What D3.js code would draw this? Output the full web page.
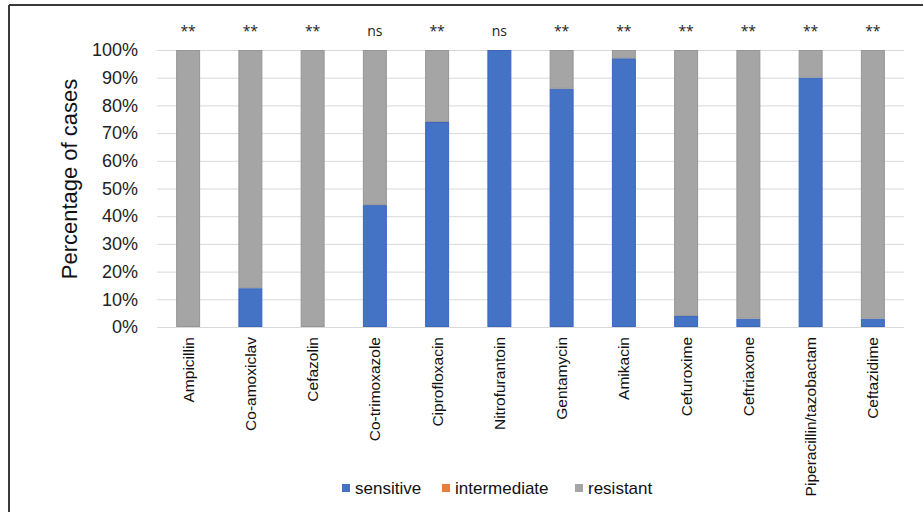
<!DOCTYPE html>
<html>
<head>
<meta charset="utf-8">
<script src="https://cdn.jsdelivr.net/npm/d3@7"></script>
<style>
  html, body { margin: 0; padding: 0; background: #fff; }
  svg { display: block; font-family: "Liberation Sans", Arial, sans-serif; }
</style>
</head>
<body>
<svg id="chart" width="923" height="512"></svg>
<script>
// Antibiotic susceptibility, percentage of cases per drug
const drugs = ["Ampicillin", "Co-amoxiclav", "Cefazolin", "Co-trimoxazole", "Ciprofloxacin",
  "Nitrofurantoin", "Gentamycin", "Amikacin", "Cefuroxime", "Ceftriaxone",
  "Piperacillin/tazobactam", "Ceftazidime"];
const sensitive    = [0, 14, 0, 44, 74, 100, 86, 97, 4, 3, 90, 3];
const intermediate = [0, 0, 0, 0, 0, 0, 0, 0, 0, 0, 0, 0];
const resistant    = [100, 86, 100, 56, 26, 0, 14, 3, 96, 97, 10, 97];
const significance = ["**", "**", "**", "ns", "**", "ns", "**", "**", "**", "**", "**", "**"];
const seriesNames  = ["sensitive", "intermediate", "resistant"];
const seriesColors = ["#4472C4", "#ED7D31", "#A5A5A5"];
const strokeColors = ["#3A66C0", "#D86F28", "#959595"];
const yTicks = [0, 10, 20, 30, 40, 50, 60, 70, 80, 90, 100];

const rows = drugs.map((d, i) => ({
  drug: d, sensitive: sensitive[i], intermediate: intermediate[i], resistant: resistant[i]
}));
const stacked = d3.stack().keys(seriesNames)(rows);

const svg = d3.select("#chart");
const plotLeft = 157, plotRight = 904, plotTop = 50, plotBottom = 327;

const x = d3.scaleBand().domain(drugs).range([plotLeft, plotRight]).paddingInner(0.615).paddingOuter(0.3075);
const y = d3.scaleLinear().domain([0, 100]).range([plotBottom, plotTop]);

// outer frame (top and left edges)
svg.append("line").attr("x1", 9).attr("x2", 923).attr("y1", 5).attr("y2", 5)
  .attr("stroke", "#3a3a3a").attr("stroke-width", 2);
svg.append("line").attr("x1", 9).attr("x2", 9).attr("y1", 5).attr("y2", 512)
  .attr("stroke", "#3a3a3a").attr("stroke-width", 2);

// horizontal gridlines
const yAxis = d3.axisLeft(y).tickValues(yTicks).tickFormat(d => d + "%")
  .tickSize(-(plotRight - plotLeft)).tickPadding(19);
const gy = svg.append("g").attr("transform", `translate(${plotLeft},0)`).call(yAxis);
gy.select(".domain").remove();
gy.selectAll(".tick line").attr("stroke", "#d9d9d9").attr("stroke-width", 1);
gy.selectAll(".tick text").attr("fill", "#222").attr("font-size", 18)
  .attr("font-family", "'Liberation Sans', Arial, sans-serif");

// stacked bars
svg.append("g").selectAll("g").data(stacked).join("g")
  .attr("fill", (d, i) => seriesColors[i])
  .attr("stroke", (d, i) => strokeColors[i])
  .selectAll("rect").data(d => d.filter(s => s[1] - s[0] > 0)).join("rect")
  .attr("x", d => x(d.data.drug) + 0.5)
  .attr("width", x.bandwidth() - 1)
  .attr("y", d => y(d[1]) + 0.5)
  .attr("height", d => Math.max(0, y(d[0]) - y(d[1]) - 1))
  .attr("stroke-width", 1);

// baseline
svg.append("line").attr("x1", plotLeft).attr("x2", plotRight)
  .attr("y1", plotBottom + 0.5).attr("y2", plotBottom + 0.5)
  .attr("stroke", "#d9d9d9");

// category labels, rotated
const xAxis = d3.axisBottom(x).tickSize(0).tickPadding(0);
const gx = svg.append("g").attr("transform", `translate(0,${plotBottom})`).call(xAxis);
gx.select(".domain").remove();
gx.selectAll(".tick text")
  .attr("font-size", 15.5).attr("fill", "#111")
  .attr("font-family", "'Liberation Sans', Arial, sans-serif")
  .attr("text-anchor", "end")
  .attr("transform", "rotate(-90)")
  .attr("x", -10).attr("y", 0).attr("dy", "0.35em");

// significance marks above bars
svg.append("g").selectAll("text").data(drugs).join("text")
  .attr("x", d => x(d) + x.bandwidth() / 2)
  .attr("y", 36)
  .attr("text-anchor", "middle")
  .attr("font-size", 14)
  .attr("fill", "#222")
  .attr("font-family", "'Open Sans', 'DejaVu Sans', sans-serif")
  .text((d, i) => significance[i]);

// y axis title
svg.append("text")
  .attr("transform", "translate(77,179) rotate(-90)")
  .attr("text-anchor", "middle")
  .attr("font-size", 22)
  .attr("fill", "#111")
  .text("Percentage of cases");

// legend
const legendX = [342, 442, 575];
const lg = svg.append("g").selectAll("g").data(seriesNames).join("g")
  .attr("transform", (d, i) => `translate(${legendX[i]},488)`);
lg.append("rect").attr("x", 0).attr("y", -4).attr("width", 8).attr("height", 8)
  .attr("fill", (d, i) => seriesColors[i]);
lg.append("text").attr("x", 13).attr("y", 0).attr("dy", "0.35em")
  .attr("font-size", 17).attr("fill", "#111").text(d => d);
</script>
</body>
</html>
